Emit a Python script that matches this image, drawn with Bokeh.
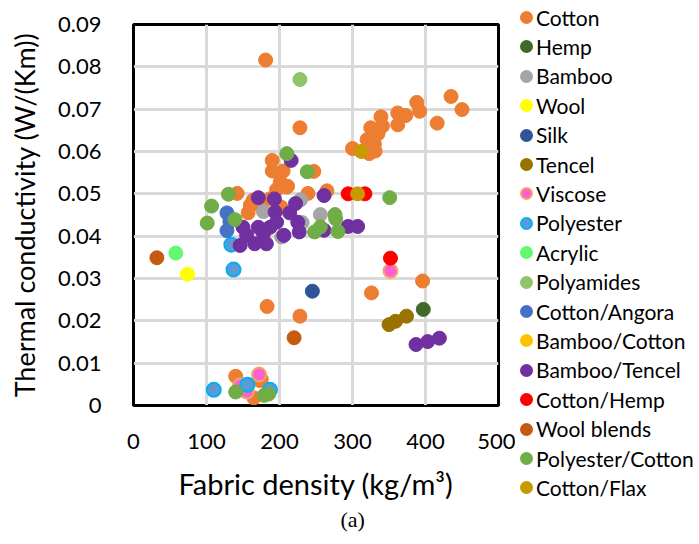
from bokeh.plotting import figure
from bokeh.layouts import row
from bokeh.models import Range1d, FixedTicker, Title, Div
from bokeh.embed import file_html
from bokeh.resources import INLINE

# Fabric density (kg/m3) and thermal conductivity (W/(Km)) per fibre type
cotton_x = [181, 228, 190, 190, 205, 247, 201, 211, 196, 210, 142, 239, 265, 164, 187, 160, 157, 202, 175,
            435, 450, 388, 392, 362, 373, 362, 416, 339, 325, 341, 335, 320, 330, 300, 323, 331,
            396, 326, 228, 183, 140, 175, 165, 173]
cotton_y = [0.0816, 0.0656, 0.0579, 0.0554, 0.0554, 0.0553, 0.0528, 0.0518, 0.0510, 0.0516, 0.0501, 0.0501, 0.0507,
            0.0485, 0.0488, 0.0473, 0.0455, 0.0469, 0.0470,
            0.0730, 0.0699, 0.0716, 0.0695, 0.0691, 0.0685, 0.0663, 0.0667, 0.0682, 0.0656, 0.0660, 0.0642,
            0.0628, 0.0617, 0.0607, 0.0595, 0.0601,
            0.0294, 0.0266, 0.0211, 0.0234, 0.0069, 0.0062, 0.0018, 0.0059]
hemp_x = [397]
hemp_y = [0.0227]
bamboo_x = [178, 229, 256, 231, 203]
bamboo_y = [0.0458, 0.0486, 0.0451, 0.0432, 0.0398]
wool_x = [74]
wool_y = [0.031]
silk_x = [245]
silk_y = [0.027]
tencel_x = [350, 359, 374]
tencel_y = [0.0191, 0.0199, 0.0211]
viscose_x = [172, 146, 155, 352]
viscose_y = [0.0073, 0.0047, 0.0033, 0.0318]
polyester_x = [110, 137, 134, 156, 187]
polyester_y = [0.0037, 0.0321, 0.0380, 0.0049, 0.0037]
acrylic_x = [58]
acrylic_y = [0.036]
polyamides_x = [228]
polyamides_y = [0.077]
cotton_angora_x = [128, 132, 128]
cotton_angora_y = [0.0455, 0.0435, 0.0413]
bamboo_cotton_x = []
bamboo_cotton_y = []
bamboo_tencel_x = [216, 171, 193, 222, 261, 194, 214, 225, 150, 171, 187, 196, 155, 178, 206, 227, 146, 166, 182,
                   261, 294, 307, 387, 403, 419]
bamboo_tencel_y = [0.0579, 0.0491, 0.0488, 0.0477, 0.0496, 0.0457, 0.0455, 0.0433, 0.0421, 0.0421, 0.0421, 0.0433,
                   0.0402, 0.0406, 0.0402, 0.0410, 0.0378, 0.0382, 0.0382, 0.0414, 0.0423, 0.0423,
                   0.0144, 0.0151, 0.0159]
cotton_hemp_x = [294, 317, 352]
cotton_hemp_y = [0.050, 0.050, 0.0348]
wool_blends_x = [32, 220]
wool_blends_y = [0.0349, 0.016]
poly_cotton_x = [210, 238, 130, 107, 101, 139, 351, 276, 277, 280, 248, 256, 140, 179, 185]
poly_cotton_y = [0.0595, 0.0552, 0.0499, 0.0471, 0.0431, 0.0439, 0.0491, 0.0451, 0.0441, 0.0411, 0.0410,
                 0.0422, 0.0032, 0.0024, 0.0027]
cotton_flax_x = [312, 307]
cotton_flax_y = [0.060, 0.050]

x_ticks = [0, 100, 200, 300, 400, 500]
y_ticks = [0, 0.01, 0.02, 0.03, 0.04, 0.05, 0.06, 0.07, 0.08, 0.09]
y_tick_labels = ["0", "0.01", "0.02", "0.03", "0.04", "0.05", "0.06", "0.07", "0.08", "0.09"]

# name, x, y, fill colour, outline colour
series = [
    ("Cotton", cotton_x, cotton_y, "#ED7D31", "#ED7D31"),
    ("Hemp", hemp_x, hemp_y, "#43682B", "#43682B"),
    ("Bamboo", bamboo_x, bamboo_y, "#A5A5A5", "#A5A5A5"),
    ("Wool", wool_x, wool_y, "#FFFF00", "#FFFF00"),
    ("Silk", silk_x, silk_y, "#2F5597", "#2F5597"),
    ("Tencel", tencel_x, tencel_y, "#997300", "#997300"),
    ("Viscose", viscose_x, viscose_y, "#FF5FCF", "#F4A46A"),
    ("Polyester", polyester_x, polyester_y, "#5B9BD5", "#00B0F0"),
    ("Acrylic", acrylic_x, acrylic_y, "#63F870", "#63F870"),
    ("Polyamides", polyamides_x, polyamides_y, "#8FC46A", "#8FC46A"),
    ("Cotton/Angora", cotton_angora_x, cotton_angora_y, "#4472C4", "#4472C4"),
    ("Bamboo/Cotton", bamboo_cotton_x, bamboo_cotton_y, "#FFC000", "#FFC000"),
    ("Bamboo/Tencel", bamboo_tencel_x, bamboo_tencel_y, "#7030A0", "#7030A0"),
    ("Cotton/Hemp", cotton_hemp_x, cotton_hemp_y, "#FF0000", "#FF0000"),
    ("Wool blends", wool_blends_x, wool_blends_y, "#C55A11", "#C55A11"),
    ("Polyester/Cotton", poly_cotton_x, poly_cotton_y, "#70AD47", "#70AD47"),
    ("Cotton/Flax", cotton_flax_x, cotton_flax_y, "#C99A00", "#C99A00"),
]

FONT = "Lato"

# Scatter plot
p = figure(width=515, height=544, output_backend="svg", toolbar_location=None,
           x_range=Range1d(0, 500), y_range=Range1d(0, 0.09),
           min_border_left=133, min_border_right=17, min_border_top=24, min_border_bottom=139)
p.background_fill_color = "white"
p.border_fill_color = "white"
p.outline_line_color = "black"
p.outline_line_width = 3

for g in (p.xgrid, p.ygrid):
    g.grid_line_color = "#D9D9D9"
    g.grid_line_width = 3

p.xaxis.ticker = FixedTicker(ticks=x_ticks)
p.yaxis.ticker = FixedTicker(ticks=y_ticks)
p.yaxis.major_label_overrides = dict(zip(y_ticks, y_tick_labels))

for ax in (p.xaxis, p.yaxis):
    ax.axis_line_color = "black"
    ax.axis_line_width = 1
    ax.major_tick_line_color = None
    ax.minor_tick_line_color = None
    ax.major_label_text_font = FONT
    ax.major_label_text_font_size = "22px"
    ax.major_label_text_color = "black"
    ax.axis_label_text_font = FONT
    ax.axis_label_text_font_style = "normal"
    ax.axis_label_text_color = "black"

p.xaxis.axis_label = "Fabric density (kg/m\u00b3)"
p.yaxis.axis_label = "Thermal conductivity (W/(Km))"
p.xaxis.axis_label_text_font_size = "29px"
p.yaxis.axis_label_text_font_size = "27px"
p.xaxis.major_label_standoff = 22
p.yaxis.major_label_standoff = 26
p.xaxis.axis_label_standoff = 14
p.yaxis.axis_label_standoff = 14

for name, xs, ys, fill, line in series:
    p.scatter(x=xs, y=ys, size=14, marker="circle", fill_color=fill,
              line_color=line, line_width=2 if line != fill else 1)

caption = Title(text="(a)", align="left", offset=207, text_font="Liberation Serif",
                text_font_size="22px", text_font_style="normal", text_color="black", standoff=2)
p.add_layout(caption, "below")

# Key: one row per series, coloured dot followed by its name
rows_html = []
for i, (name, xs, ys, fill, line) in enumerate(series):
    mid = 12.5 + i * 29.4
    rows_html.append(
        f'<div style="position:absolute;left:0px;top:{mid - 6.5:.1f}px;width:13px;height:13px;'
        f'box-sizing:border-box;border-radius:50%;background:{fill};border:2px solid {line};"></div>'
        f'<div style="position:absolute;left:16px;top:{mid - 13:.1f}px;height:26px;line-height:26px;'
        f'white-space:nowrap;font-family:Lato;font-size:21px;color:black;">{name}</div>'
    )
key = Div(width=184, height=544,
          text='<div style="position:relative;width:184px;height:544px;background:white;">'
               + "".join(rows_html) + "</div>")

open("out.html", "w").write(file_html(row(p, key, spacing=0), INLINE))
